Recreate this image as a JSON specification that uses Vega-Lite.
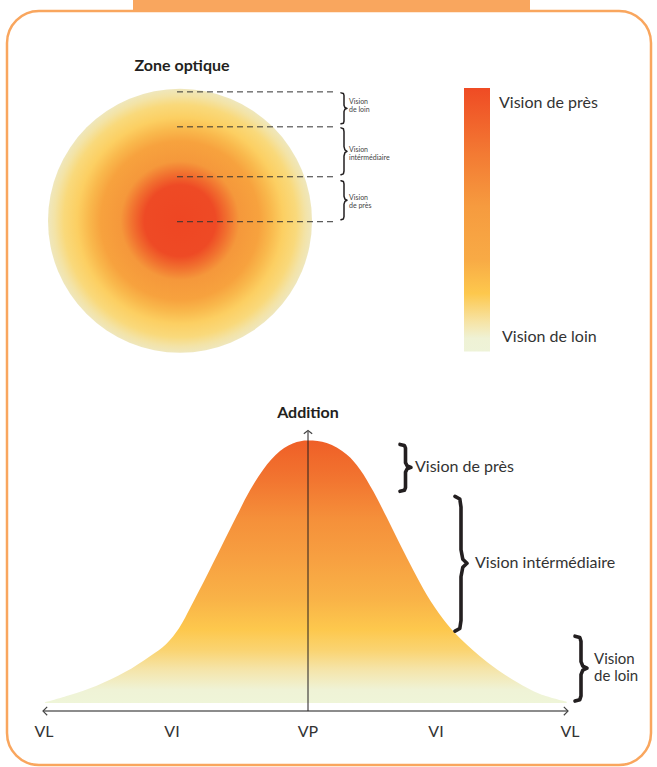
{
  "$schema": "https://vega.github.io/schema/vega-lite/v6.json",
  "width": 657,
  "height": 767,
  "autosize": {"type": "fit", "contains": "padding"},
  "padding": 0,
  "background": "#ffffff",
  "config": {"view": {"stroke": null}},
  "datasets": {
    "frame": [{"x": 7, "x2": 651, "y": 11, "y2": 766}],
    "tab": [{"x": 133, "x2": 530, "y": 0, "y2": 12}],
    "lens": [{"x": 180, "y": 221, "zone": "Zone optique"}],
    "scalebar": [{"x": 464, "x2": 490, "y": 88, "y2": 352}],
    "dashes": [
      {"x": 177, "x2": 334, "y": 92},
      {"x": 177, "x2": 334, "y": 127},
      {"x": 177, "x2": 334, "y": 177},
      {"x": 177, "x2": 334, "y": 222}
    ],
    "smallBraces": [
      {"b": "a", "o": 1, "x": 341, "y": 93}, {"b": "a", "o": 2, "x": 343.4, "y": 93.6}, {"b": "a", "o": 3, "x": 344, "y": 95.5}, {"b": "a", "o": 4, "x": 344, "y": 105.4}, {"b": "a", "o": 5, "x": 344.9, "y": 107.6}, {"b": "a", "o": 6, "x": 347, "y": 108.5}, {"b": "a", "o": 7, "x": 344.9, "y": 109.4}, {"b": "a", "o": 8, "x": 344, "y": 111.6}, {"b": "a", "o": 9, "x": 344, "y": 121.5}, {"b": "a", "o": 10, "x": 343.4, "y": 123.4}, {"b": "a", "o": 11, "x": 341, "y": 124},
      {"b": "b", "o": 1, "x": 341, "y": 128}, {"b": "b", "o": 2, "x": 343.4, "y": 128.9}, {"b": "b", "o": 3, "x": 344, "y": 131.8}, {"b": "b", "o": 4, "x": 344, "y": 146.8}, {"b": "b", "o": 5, "x": 344.9, "y": 150.1}, {"b": "b", "o": 6, "x": 347, "y": 151.5}, {"b": "b", "o": 7, "x": 344.9, "y": 152.9}, {"b": "b", "o": 8, "x": 344, "y": 156.2}, {"b": "b", "o": 9, "x": 344, "y": 171.2}, {"b": "b", "o": 10, "x": 343.4, "y": 174.1}, {"b": "b", "o": 11, "x": 341, "y": 175},
      {"b": "c", "o": 1, "x": 341, "y": 181}, {"b": "c", "o": 2, "x": 343.4, "y": 181.8}, {"b": "c", "o": 3, "x": 344, "y": 184.1}, {"b": "c", "o": 4, "x": 344, "y": 196.6}, {"b": "c", "o": 5, "x": 344.9, "y": 199.3}, {"b": "c", "o": 6, "x": 347, "y": 200.5}, {"b": "c", "o": 7, "x": 344.9, "y": 201.7}, {"b": "c", "o": 8, "x": 344, "y": 204.4}, {"b": "c", "o": 9, "x": 344, "y": 216.9}, {"b": "c", "o": 10, "x": 343.4, "y": 219.2}, {"b": "c", "o": 11, "x": 341, "y": 220}
    ],
    "bigBraces": [
      {"b": "d", "o": 1, "x": 400, "y": 445}, {"b": "d", "o": 2, "x": 404.4, "y": 446}, {"b": "d", "o": 3, "x": 405.5, "y": 448.8}, {"b": "d", "o": 4, "x": 405.5, "y": 463.3}, {"b": "d", "o": 5, "x": 407.2, "y": 466.6}, {"b": "d", "o": 6, "x": 411, "y": 468}, {"b": "d", "o": 7, "x": 407.2, "y": 469.4}, {"b": "d", "o": 8, "x": 405.5, "y": 472.7}, {"b": "d", "o": 9, "x": 405.5, "y": 488.2}, {"b": "d", "o": 10, "x": 404.4, "y": 491}, {"b": "d", "o": 11, "x": 400, "y": 492},
      {"b": "e", "o": 1, "x": 455, "y": 497}, {"b": "e", "o": 2, "x": 459.8, "y": 499.7}, {"b": "e", "o": 3, "x": 461, "y": 507.8}, {"b": "e", "o": 4, "x": 461, "y": 550.5}, {"b": "e", "o": 5, "x": 462.8, "y": 560}, {"b": "e", "o": 6, "x": 467, "y": 564}, {"b": "e", "o": 7, "x": 462.8, "y": 568}, {"b": "e", "o": 8, "x": 461, "y": 577.5}, {"b": "e", "o": 9, "x": 461, "y": 621.2}, {"b": "e", "o": 10, "x": 459.8, "y": 629.3}, {"b": "e", "o": 11, "x": 455, "y": 632},
      {"b": "f", "o": 1, "x": 575, "y": 637}, {"b": "f", "o": 2, "x": 579.8, "y": 638.3}, {"b": "f", "o": 3, "x": 581, "y": 642.2}, {"b": "f", "o": 4, "x": 581, "y": 662.5}, {"b": "f", "o": 5, "x": 582.8, "y": 667}, {"b": "f", "o": 6, "x": 587, "y": 669}, {"b": "f", "o": 7, "x": 582.8, "y": 671}, {"b": "f", "o": 8, "x": 581, "y": 675.5}, {"b": "f", "o": 9, "x": 581, "y": 696.8}, {"b": "f", "o": 10, "x": 579.8, "y": 700.7}, {"b": "f", "o": 11, "x": 575, "y": 702}
    ],
    "curve": [
      {"x": 45, "y": 703.3}, {"x": 70, "y": 696}, {"x": 96.7, "y": 686.7}, {"x": 125, "y": 673}, {"x": 150, "y": 657},
      {"x": 166, "y": 645}, {"x": 179, "y": 629}, {"x": 191, "y": 607}, {"x": 205, "y": 580}, {"x": 222, "y": 546},
      {"x": 237, "y": 516}, {"x": 250, "y": 491}, {"x": 263.3, "y": 470}, {"x": 280, "y": 451.7},
      {"x": 296.7, "y": 442.7}, {"x": 307, "y": 441}, {"x": 326.7, "y": 443.5}, {"x": 346.7, "y": 455},
      {"x": 360, "y": 470}, {"x": 373.3, "y": 492}, {"x": 386.7, "y": 518}, {"x": 400, "y": 545},
      {"x": 413.3, "y": 571}, {"x": 427, "y": 596}, {"x": 443.3, "y": 620}, {"x": 460, "y": 639},
      {"x": 486.7, "y": 662.5}, {"x": 516.7, "y": 683}, {"x": 540, "y": 695}, {"x": 566.7, "y": 702.7}
    ],
    "hline": [{"x": 43, "x2": 568, "y": 712}],
    "vline": [{"x": 308, "y": 432, "y2": 712}],
    "heads": [
      {"x": 43, "y": 712, "dir": "left"},
      {"x": 568, "y": 712, "dir": "right"},
      {"x": 308, "y": 431, "dir": "up"}
    ],
    "titles": [
      {"x": 182, "y": 66, "t": "Zone optique"},
      {"x": 308, "y": 414, "t": "Addition"}
    ],
    "labels": [
      {"x": 499, "y": 103, "t": "Vision de près"},
      {"x": 502, "y": 337, "t": "Vision de loin"},
      {"x": 415, "y": 468, "t": "Vision de près"},
      {"x": 475, "y": 564, "t": "Vision intérmédiaire"}
    ],
    "labels2": [
      {"x": 594, "y": 660, "t": "Vision"},
      {"x": 594, "y": 677, "t": "de loin"}
    ],
    "tiny": [
      {"x": 349, "y": 102.5, "t": "Vision"},
      {"x": 349, "y": 110, "t": "de loin"},
      {"x": 349, "y": 150.5, "t": "Vision"},
      {"x": 349, "y": 158, "t": "intérmédiaire"},
      {"x": 349, "y": 198.5, "t": "Vision"},
      {"x": 349, "y": 206, "t": "de près"}
    ],
    "ticks": [
      {"x": 44, "y": 733, "t": "VL"},
      {"x": 172, "y": 733, "t": "VI"},
      {"x": 308, "y": 733, "t": "VP"},
      {"x": 436, "y": 733, "t": "VI"},
      {"x": 570, "y": 733, "t": "VL"}
    ]
  },
  "encoding": {
    "x": {"field": "x", "type": "quantitative", "scale": {"domain": [0, 657], "nice": false, "zero": false}, "axis": null},
    "y": {"field": "y", "type": "quantitative", "scale": {"domain": [0, 767], "nice": false, "zero": false, "reverse": true}, "axis": null}
  },
  "layer": [
    {
      "data": {"name": "frame"},
      "mark": {"type": "rect", "fill": null, "fillOpacity": 0, "stroke": "#F9A65E", "strokeWidth": 2.5, "cornerRadius": 32},
      "encoding": {"x2": {"field": "x2"}, "y2": {"field": "y2"}}
    },
    {
      "data": {"name": "tab"},
      "mark": {"type": "rect", "fill": "#F9A65E"},
      "encoding": {"x2": {"field": "x2"}, "y2": {"field": "y2"}}
    },
    {
      "data": {"name": "lens"},
      "mark": {
        "type": "point", "shape": "circle", "size": 69696, "filled": true, "opacity": 1, "strokeWidth": 0,
        "color": {
          "gradient": "radial", "x1": 0.5, "y1": 0.5, "r1": 0, "x2": 0.5, "y2": 0.5, "r2": 0.5,
          "stops": [
            {"offset": 0, "color": "#EE4623"},
            {"offset": 0.27, "color": "#EE4A25"},
            {"offset": 0.36, "color": "#F1702F"},
            {"offset": 0.45, "color": "#F5983B"},
            {"offset": 0.6, "color": "#F7A23E"},
            {"offset": 0.69, "color": "#F9B84C"},
            {"offset": 0.78, "color": "#FCCF62"},
            {"offset": 0.88, "color": "#F9D97B"},
            {"offset": 0.95, "color": "#F3E3A6"},
            {"offset": 1, "color": "#EFE7BD"}
          ]
        }
      }
    },
    {
      "data": {"name": "dashes"},
      "mark": {"type": "rule", "color": "#333333", "strokeWidth": 1, "strokeDash": [6, 4]},
      "encoding": {"x2": {"field": "x2"}}
    },
    {
      "data": {"name": "smallBraces"},
      "mark": {"type": "line", "color": "#231F20", "strokeWidth": 1.5, "strokeJoin": "round", "strokeCap": "round"},
      "encoding": {"detail": {"field": "b"}, "order": {"field": "o", "type": "quantitative"}}
    },
    {
      "data": {"name": "scalebar"},
      "mark": {
        "type": "rect",
        "color": {
          "gradient": "linear", "x1": 0, "y1": 0, "x2": 0, "y2": 1,
          "stops": [
            {"offset": 0, "color": "#EF4B24"},
            {"offset": 0.25, "color": "#F37A33"},
            {"offset": 0.45, "color": "#F69B3F"},
            {"offset": 0.65, "color": "#F8AA45"},
            {"offset": 0.78, "color": "#FDC84D"},
            {"offset": 0.88, "color": "#F7E2A0"},
            {"offset": 0.95, "color": "#EFF2D5"},
            {"offset": 1, "color": "#EEF3D8"}
          ]
        }
      },
      "encoding": {"x2": {"field": "x2"}, "y2": {"field": "y2"}}
    },
    {
      "data": {"name": "curve"},
      "mark": {
        "type": "area", "interpolate": "catmull-rom",
        "color": {
          "gradient": "linear", "x1": 0, "y1": 0, "x2": 0, "y2": 1,
          "stops": [
            {"offset": 0, "color": "#EF5F27"},
            {"offset": 0.15, "color": "#F27530"},
            {"offset": 0.3, "color": "#F5903A"},
            {"offset": 0.45, "color": "#F7A041"},
            {"offset": 0.6, "color": "#F9B247"},
            {"offset": 0.72, "color": "#FDC84D"},
            {"offset": 0.8, "color": "#FAD472"},
            {"offset": 0.87, "color": "#F5E4A8"},
            {"offset": 0.95, "color": "#EFF3D6"},
            {"offset": 1, "color": "#EFF5D8"}
          ]
        }
      },
      "encoding": {"y2": {"datum": 704}}
    },
    {
      "data": {"name": "hline"},
      "mark": {"type": "rule", "color": "#666666", "strokeWidth": 1.5},
      "encoding": {"x2": {"field": "x2"}}
    },
    {
      "data": {"name": "vline"},
      "mark": {"type": "rule", "color": "#231F20", "strokeWidth": 1},
      "encoding": {"y2": {"field": "y2"}}
    },
    {
      "data": {"name": "heads"},
      "mark": {"type": "point", "filled": false, "size": 70, "strokeWidth": 1.2, "color": "#444444", "opacity": 1},
      "encoding": {
        "shape": {"field": "dir", "type": "nominal", "legend": null,
          "scale": {"domain": ["left", "right", "up"], "range": ["M1,-1L0,0L1,1", "M-1,-1L0,0L-1,1", "M-1,0.8L0,0L1,0.8"]}}
      }
    },
    {
      "data": {"name": "bigBraces"},
      "mark": {"type": "line", "color": "#231F20", "strokeWidth": 3.6, "strokeJoin": "round", "strokeCap": "round"},
      "encoding": {"detail": {"field": "b"}, "order": {"field": "o", "type": "quantitative"}}
    },
    {
      "data": {"name": "titles"},
      "mark": {"type": "text", "font": "Lato", "fontWeight": "bold", "fontSize": 16, "color": "#231F20", "align": "center", "baseline": "middle"},
      "encoding": {"text": {"field": "t"}}
    },
    {
      "data": {"name": "labels"},
      "mark": {"type": "text", "font": "Lato", "fontSize": 16, "color": "#333333", "align": "left", "baseline": "middle"},
      "encoding": {"text": {"field": "t"}}
    },
    {
      "data": {"name": "labels2"},
      "mark": {"type": "text", "font": "Lato", "fontSize": 15, "color": "#333333", "align": "left", "baseline": "middle"},
      "encoding": {"text": {"field": "t"}}
    },
    {
      "data": {"name": "tiny"},
      "mark": {"type": "text", "font": "Lato", "fontSize": 7, "color": "#444444", "align": "left", "baseline": "middle"},
      "encoding": {"text": {"field": "t"}}
    },
    {
      "data": {"name": "ticks"},
      "mark": {"type": "text", "font": "Lato", "fontSize": 16, "color": "#333333", "align": "center", "baseline": "middle"},
      "encoding": {"text": {"field": "t"}}
    }
  ]
}
